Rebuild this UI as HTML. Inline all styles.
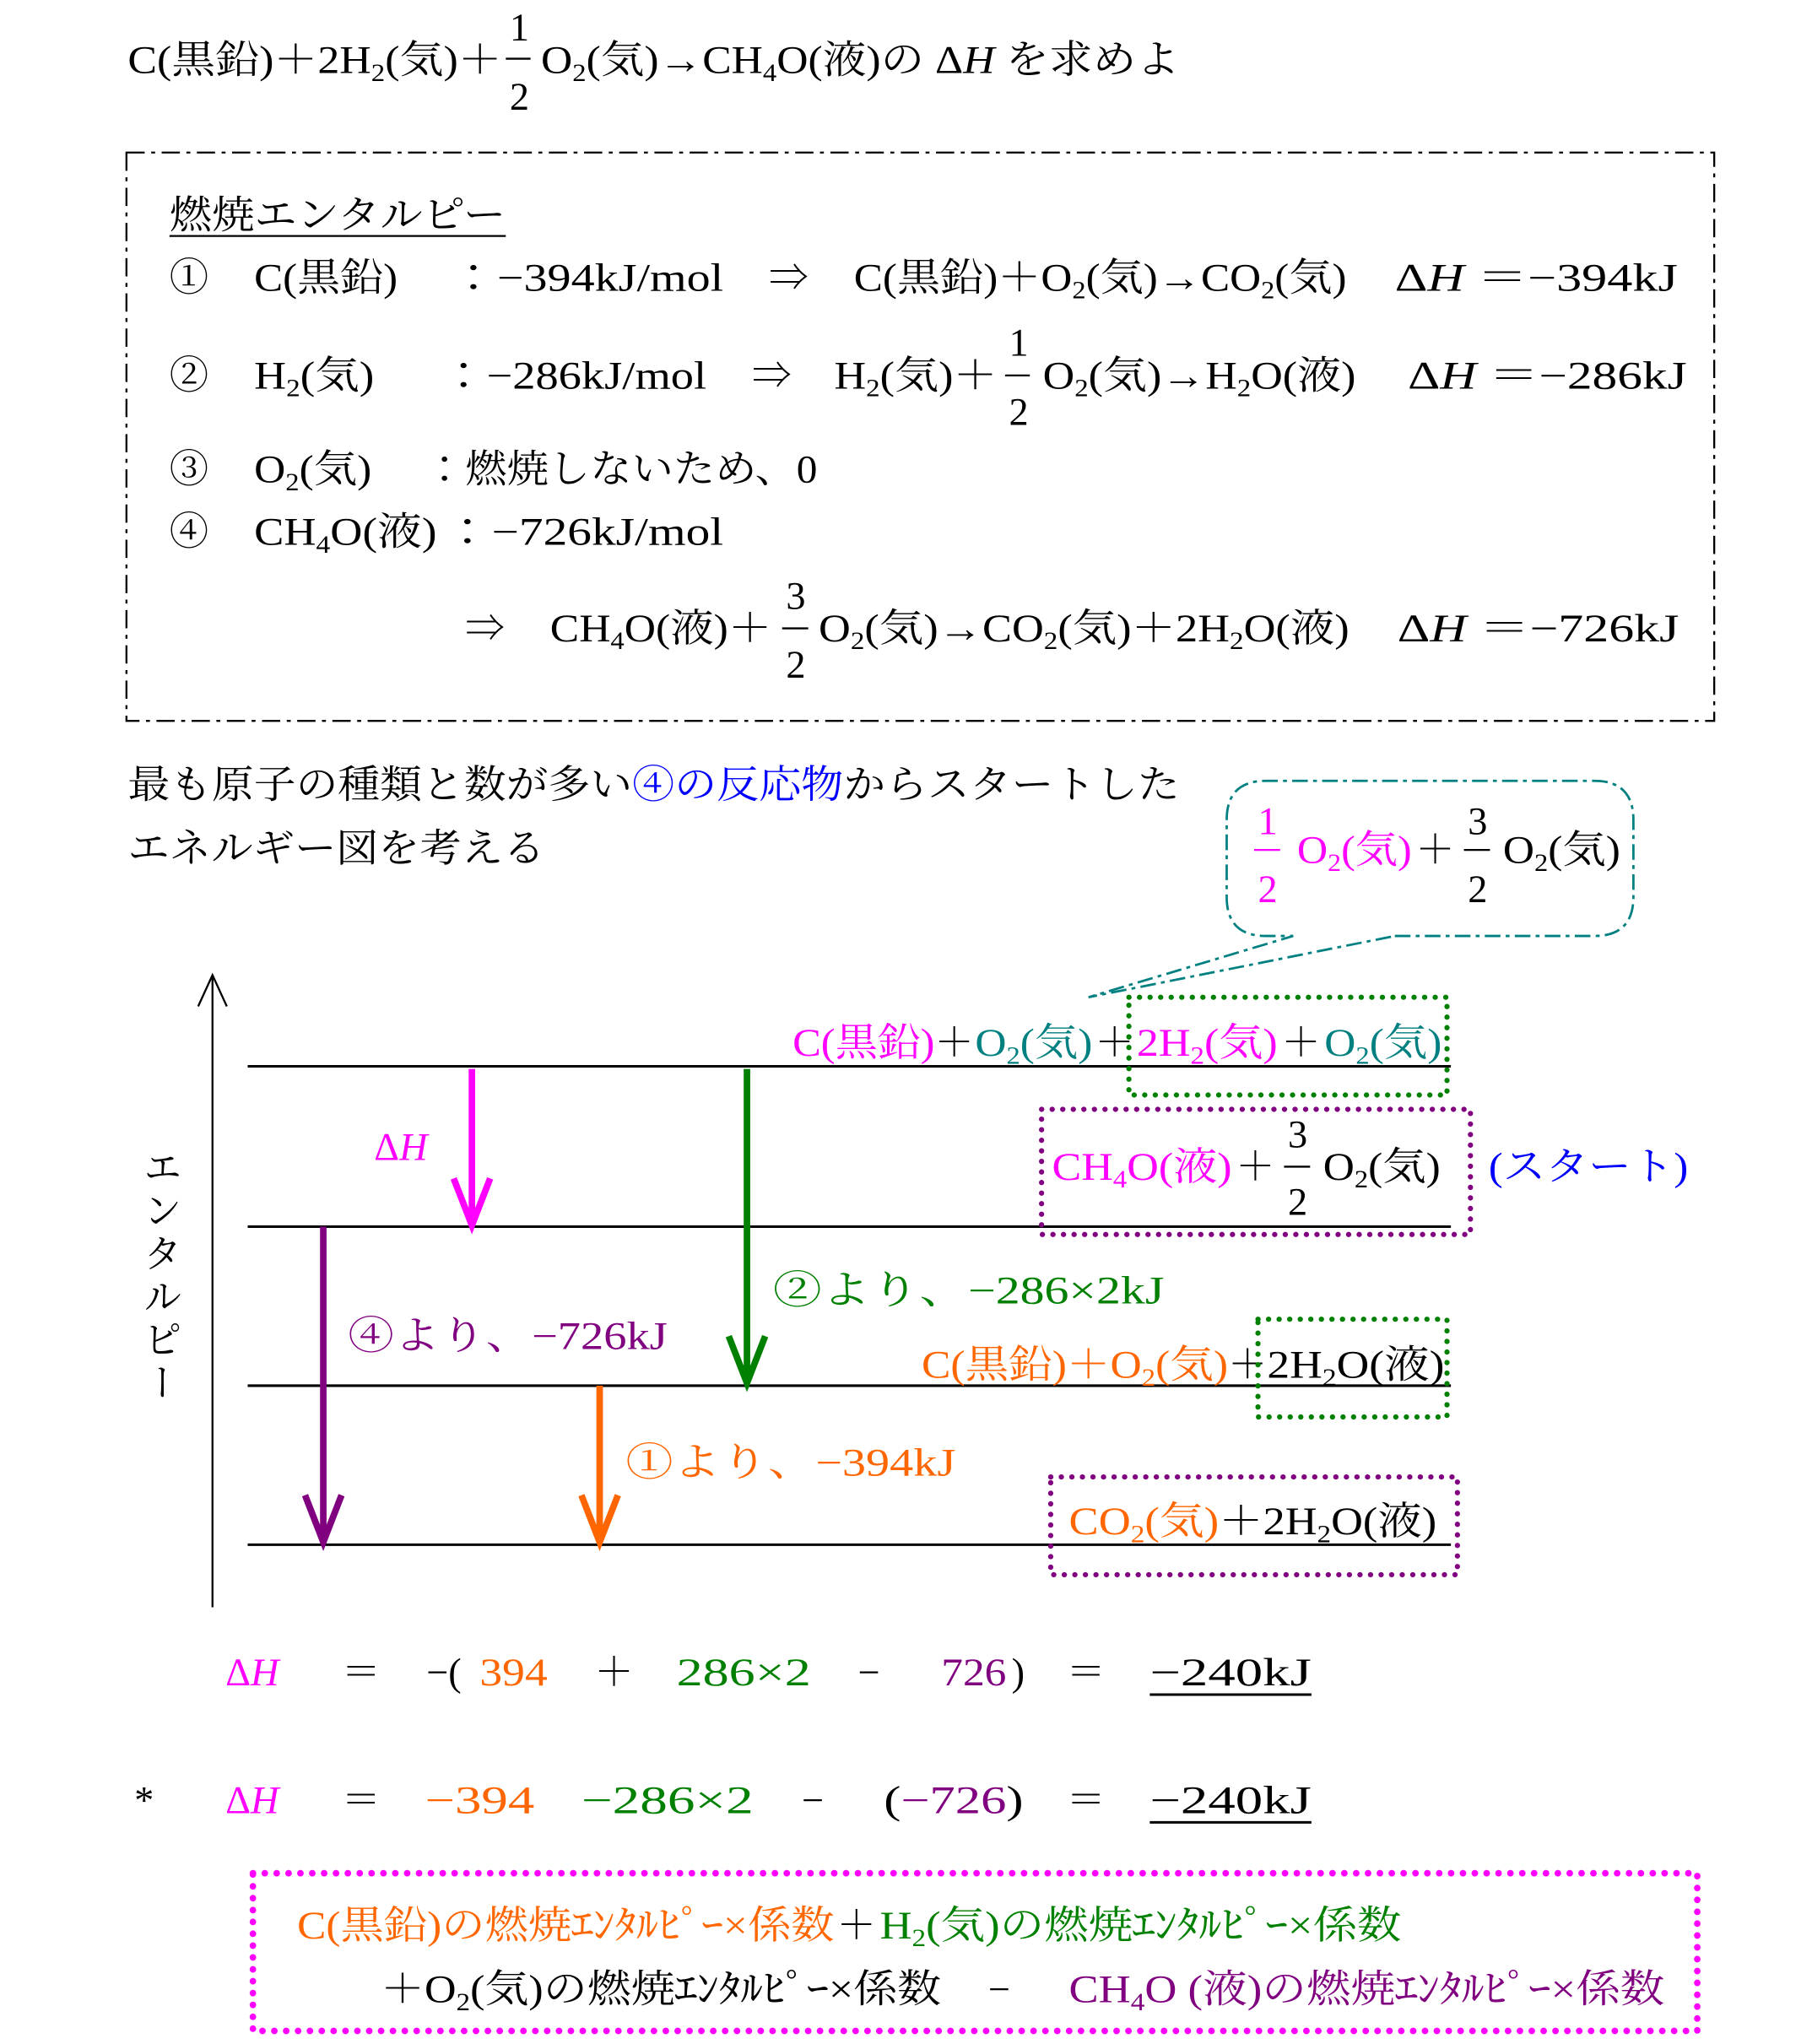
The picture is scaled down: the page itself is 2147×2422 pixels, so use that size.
<!DOCTYPE html>
<html><head><meta charset="utf-8"><style>
html,body{margin:0;padding:0;background:#fff;}
svg{display:block;}
text{font-family:"Liberation Serif","Noto Serif CJK JP","Noto Serif CJK SC",serif;font-size:30px;fill:#000;}
.m{fill:#ff00ff}.t{fill:#008080}.g{fill:#008000}.p{fill:#800080}.o{fill:#ff6600}.b{fill:#0000ff}
</style></head><body>
<svg width="2147" height="2422" viewBox="0 0 1390 1568" xmlns="http://www.w3.org/2000/svg">
<text x="98" y="56" textLength="287" lengthAdjust="spacingAndGlyphs">C(黒鉛)＋2H<tspan font-size="19" dy="6">2</tspan><tspan dy="-6">(気)＋</tspan></text>
<text x="391" y="31">1</text><line x1="388" y1="45" x2="407" y2="45" stroke="#000" stroke-width="1.5"/><text x="391" y="84">2</text>
<text x="415" y="56" textLength="490" lengthAdjust="spacingAndGlyphs">O<tspan font-size="19" dy="6">2</tspan><tspan dy="-6">(気)→CH</tspan><tspan font-size="19" dy="6">4</tspan><tspan dy="-6">O(液)の Δ</tspan><tspan font-style="italic">H</tspan> を求めよ</text>

<rect x="97" y="117" width="1218" height="436" fill="none" stroke="#000" stroke-width="1.5" stroke-dasharray="14 5 3 5"/>
<text x="130" y="175" textLength="258" lengthAdjust="spacingAndGlyphs">燃焼エンタルピー</text>
<line x1="130" y1="181" x2="388" y2="181" stroke="#000" stroke-width="1.5"/>

<text x="130" y="223">①</text>
<text x="195" y="223" textLength="110" lengthAdjust="spacingAndGlyphs">C(黒鉛)</text>
<text x="345" y="223" textLength="210" lengthAdjust="spacingAndGlyphs">：−394kJ/mol</text>
<text x="590" y="223">⇒</text>
<text x="655" y="223" textLength="378" lengthAdjust="spacingAndGlyphs">C(黒鉛)＋O<tspan font-size="19" dy="6">2</tspan><tspan dy="-6">(気)→CO</tspan><tspan font-size="19" dy="6">2</tspan><tspan dy="-6">(気)</tspan></text>
<text x="1070" y="223" textLength="217" lengthAdjust="spacingAndGlyphs">Δ<tspan font-style="italic">H</tspan> ＝−394kJ</text>

<text x="130" y="298">②</text>
<text x="195" y="298" textLength="92" lengthAdjust="spacingAndGlyphs">H<tspan font-size="19" dy="6">2</tspan><tspan dy="-6">(気)</tspan></text>
<text x="338" y="298" textLength="204" lengthAdjust="spacingAndGlyphs">：−286kJ/mol</text>
<text x="577" y="298">⇒</text>
<text x="640" y="298" textLength="125" lengthAdjust="spacingAndGlyphs">H<tspan font-size="19" dy="6">2</tspan><tspan dy="-6">(気)＋</tspan></text>
<text x="774" y="273">1</text><line x1="771" y1="288" x2="790" y2="288" stroke="#000" stroke-width="1.5"/><text x="774" y="326">2</text>
<text x="800" y="298" textLength="240" lengthAdjust="spacingAndGlyphs">O<tspan font-size="19" dy="6">2</tspan><tspan dy="-6">(気)→H</tspan><tspan font-size="19" dy="6">2</tspan><tspan dy="-6">O(液)</tspan></text>
<text x="1080" y="298" textLength="214" lengthAdjust="spacingAndGlyphs">Δ<tspan font-style="italic">H</tspan> ＝−286kJ</text>

<text x="130" y="370">③</text>
<text x="195" y="370" textLength="90" lengthAdjust="spacingAndGlyphs">O<tspan font-size="19" dy="6">2</tspan><tspan dy="-6">(気)</tspan></text>
<text x="325" y="370" textLength="302" lengthAdjust="spacingAndGlyphs">：燃焼しないため、0</text>

<text x="130" y="418">④</text>
<text x="195" y="418" textLength="140" lengthAdjust="spacingAndGlyphs">CH<tspan font-size="19" dy="6">4</tspan><tspan dy="-6">O(液)</tspan></text>
<text x="340" y="418" textLength="215" lengthAdjust="spacingAndGlyphs">：−726kJ/mol</text>

<text x="357" y="492">⇒</text>
<text x="422" y="492" textLength="170" lengthAdjust="spacingAndGlyphs">CH<tspan font-size="19" dy="6">4</tspan><tspan dy="-6">O(液)＋</tspan></text>
<text x="603" y="467">3</text><line x1="600" y1="482" x2="620" y2="482" stroke="#000" stroke-width="1.5"/><text x="603" y="520">2</text>
<text x="628" y="492" textLength="407" lengthAdjust="spacingAndGlyphs">O<tspan font-size="19" dy="6">2</tspan><tspan dy="-6">(気)→CO</tspan><tspan font-size="19" dy="6">2</tspan><tspan dy="-6">(気)＋2H</tspan><tspan font-size="19" dy="6">2</tspan><tspan dy="-6">O(液)</tspan></text>
<text x="1072" y="492" textLength="216" lengthAdjust="spacingAndGlyphs">Δ<tspan font-style="italic">H</tspan> ＝−726kJ</text>

<text x="98" y="612" textLength="387" lengthAdjust="spacingAndGlyphs">最も原子の種類と数が多い</text>
<text x="485" y="612" class="b" textLength="162" lengthAdjust="spacingAndGlyphs">④の反応物</text>
<text x="647" y="612" textLength="258" lengthAdjust="spacingAndGlyphs">からスタートした</text>
<text x="98" y="661" textLength="320" lengthAdjust="spacingAndGlyphs">エネルギー図を考える</text>

<path d="M1070 718 H1223 Q1253 718 1253 688 V629 Q1253 599 1223 599 H971 Q941 599 941 629 V688 Q941 718 971 718 H992 L835 765 L1070 718" fill="none" stroke="#008080" stroke-width="1.8" stroke-dasharray="12 4 3 4"/>
<text x="965" y="640" class="m">1</text><line x1="962" y1="652" x2="982" y2="652" stroke="#ff00ff" stroke-width="1.5"/><text x="965" y="692" class="m">2</text>
<text x="995" y="662" class="m" textLength="88" lengthAdjust="spacingAndGlyphs">O<tspan font-size="19" dy="6">2</tspan><tspan dy="-6">(気)</tspan></text>
<text x="1086" y="662">＋</text>
<text x="1126" y="640">3</text><line x1="1123" y1="652" x2="1143" y2="652" stroke="#000" stroke-width="1.5"/><text x="1126" y="692">2</text>
<text x="1153" y="662" textLength="90" lengthAdjust="spacingAndGlyphs">O<tspan font-size="19" dy="6">2</tspan><tspan dy="-6">(気)</tspan></text>

<line x1="163" y1="748" x2="163" y2="1233" stroke="#000" stroke-width="1.5"/>
<polyline points="152,772 163,748 174,772" fill="none" stroke="#000" stroke-width="1.5"/>
<text x="122" y="880" style="writing-mode:vertical-rl;letter-spacing:3px">エンタルピー</text>

<g stroke="#000" stroke-width="2">
<line x1="190" y1="818" x2="1113" y2="818"/>
<line x1="190" y1="941" x2="1113" y2="941"/>
<line x1="190" y1="1063" x2="1113" y2="1063"/>
<line x1="190" y1="1185" x2="1113" y2="1185"/>
</g>
<g fill="none" stroke-width="5">
<path d="M362 820 V940 M348 904 L362 940 L376 904" stroke="#ff00ff"/>
<path d="M573 820 V1061 M559 1025 L573 1061 L587 1025" stroke="#008000"/>
<path d="M248 941 V1183 M234 1147 L248 1183 L262 1147" stroke="#800080"/>
<path d="M460 1063 V1183 M446 1147 L460 1183 L474 1147" stroke="#ff6600"/>
</g>
<text x="287" y="890" class="m">Δ<tspan font-style="italic">H</tspan></text>
<text x="593" y="1000" class="g" textLength="300" lengthAdjust="spacingAndGlyphs">②より、−286×2kJ</text>
<text x="267" y="1035" class="p" textLength="245" lengthAdjust="spacingAndGlyphs">④より、−726kJ</text>
<text x="480" y="1132" class="o" textLength="253" lengthAdjust="spacingAndGlyphs">①より、−394kJ</text>

<text x="608" y="810" class="m" textLength="109" lengthAdjust="spacingAndGlyphs">C(黒鉛)</text>
<text x="717" y="810">＋</text>
<text x="748" y="810" class="t" textLength="90" lengthAdjust="spacingAndGlyphs">O<tspan font-size="19" dy="6">2</tspan><tspan dy="-6">(気)</tspan></text>
<text x="840" y="810">＋</text>
<text x="872" y="810" class="m" textLength="108" lengthAdjust="spacingAndGlyphs">2H<tspan font-size="19" dy="6">2</tspan><tspan dy="-6">(気)</tspan></text>
<text x="983" y="810">＋</text>
<text x="1016" y="810" class="t" textLength="90" lengthAdjust="spacingAndGlyphs">O<tspan font-size="19" dy="6">2</tspan><tspan dy="-6">(気)</tspan></text>
<rect x="866" y="765" width="244" height="75" fill="none" stroke="#008000" stroke-width="4" stroke-dasharray="0.1 8" stroke-linecap="round"/>

<text x="807" y="905" class="m" textLength="138" lengthAdjust="spacingAndGlyphs">CH<tspan font-size="19" dy="6">4</tspan><tspan dy="-6">O(液)</tspan></text>
<text x="948" y="905">＋</text>
<text x="988" y="880">3</text><line x1="985" y1="895" x2="1005" y2="895" stroke="#000" stroke-width="1.5"/><text x="988" y="932">2</text>
<text x="1015" y="905" textLength="90" lengthAdjust="spacingAndGlyphs">O<tspan font-size="19" dy="6">2</tspan><tspan dy="-6">(気)</tspan></text>
<text x="1142" y="905" class="b" textLength="153" lengthAdjust="spacingAndGlyphs">(スタート)</text>
<rect x="799" y="851" width="329" height="96" fill="none" stroke="#800080" stroke-width="4" stroke-dasharray="0.1 8" stroke-linecap="round"/>

<text x="707" y="1057" class="o" textLength="235" lengthAdjust="spacingAndGlyphs">C(黒鉛)＋O<tspan font-size="19" dy="6">2</tspan><tspan dy="-6">(気)</tspan></text>
<text x="942" y="1057">＋</text>
<text x="972" y="1057" textLength="136" lengthAdjust="spacingAndGlyphs">2H<tspan font-size="19" dy="6">2</tspan><tspan dy="-6">O(液)</tspan></text>
<rect x="965" y="1012" width="145" height="75" fill="none" stroke="#008000" stroke-width="4" stroke-dasharray="0.1 8" stroke-linecap="round"/>

<text x="820" y="1177" class="o" textLength="115" lengthAdjust="spacingAndGlyphs">CO<tspan font-size="19" dy="6">2</tspan><tspan dy="-6">(気)</tspan></text>
<text x="935" y="1177" textLength="167" lengthAdjust="spacingAndGlyphs">＋2H<tspan font-size="19" dy="6">2</tspan><tspan dy="-6">O(液)</tspan></text>
<rect x="806" y="1133" width="312" height="75" fill="none" stroke="#800080" stroke-width="4" stroke-dasharray="0.1 8" stroke-linecap="round"/>

<text x="173" y="1293" class="m" font-size="32">Δ<tspan font-style="italic">H</tspan></text>
<text x="262" y="1293" font-size="32">＝</text>
<text x="327" y="1293" font-size="32">−(</text>
<text x="368" y="1293" class="o" font-size="32" textLength="52" lengthAdjust="spacingAndGlyphs">394</text>
<text x="456" y="1293" font-size="32">＋</text>
<text x="519" y="1293" class="g" font-size="32" textLength="103" lengthAdjust="spacingAndGlyphs">286×2</text>
<text x="658" y="1293" font-size="32">−</text>
<text x="722" y="1293" class="p" font-size="32" textLength="50" lengthAdjust="spacingAndGlyphs">726</text>
<text x="776" y="1293" font-size="32">)</text>
<text x="818" y="1293" font-size="32">＝</text>
<text x="882" y="1293" font-size="32" textLength="124" lengthAdjust="spacingAndGlyphs">−240kJ</text>
<line x1="882" y1="1300" x2="1006" y2="1300" stroke="#000" stroke-width="2"/>

<text x="103" y="1391" font-size="32">*</text>
<text x="173" y="1391" class="m" font-size="32">Δ<tspan font-style="italic">H</tspan></text>
<text x="262" y="1391" font-size="32">＝</text>
<text x="326" y="1391" class="o" font-size="32" textLength="84" lengthAdjust="spacingAndGlyphs">−394</text>
<text x="446" y="1391" class="g" font-size="32" textLength="132" lengthAdjust="spacingAndGlyphs">−286×2</text>
<text x="615" y="1391" font-size="32">−</text>
<text x="678" y="1391" font-size="32" textLength="107" lengthAdjust="spacingAndGlyphs">(<tspan class="p">−726</tspan>)</text>
<text x="818" y="1391" font-size="32">＝</text>
<text x="882" y="1391" font-size="32" textLength="124" lengthAdjust="spacingAndGlyphs">−240kJ</text>
<line x1="882" y1="1398" x2="1006" y2="1398" stroke="#000" stroke-width="2"/>

<rect x="194" y="1437" width="1108" height="121" fill="none" stroke="#ff00ff" stroke-width="5" stroke-dasharray="0.1 9" stroke-linecap="round"/>
<text x="228" y="1487" class="o" textLength="412" lengthAdjust="spacingAndGlyphs">C(黒鉛)の燃焼ｴﾝﾀﾙﾋﾟｰ×係数</text>
<text x="642" y="1487">＋</text>
<text x="675" y="1487" class="g" textLength="400" lengthAdjust="spacingAndGlyphs">H<tspan font-size="19" dy="6">2</tspan><tspan dy="-6">(気)の燃焼ｴﾝﾀﾙﾋﾟｰ×係数</tspan></text>
<text x="292" y="1536" textLength="430" lengthAdjust="spacingAndGlyphs">＋O<tspan font-size="19" dy="6">2</tspan><tspan dy="-6">(気)の燃焼ｴﾝﾀﾙﾋﾟｰ×係数</tspan></text>
<text x="758" y="1536">−</text>
<text x="820" y="1536" class="p" textLength="457" lengthAdjust="spacingAndGlyphs">CH<tspan font-size="19" dy="6">4</tspan><tspan dy="-6">O (液)の燃焼ｴﾝﾀﾙﾋﾟｰ×係数</tspan></text>
</svg>
</body></html>
